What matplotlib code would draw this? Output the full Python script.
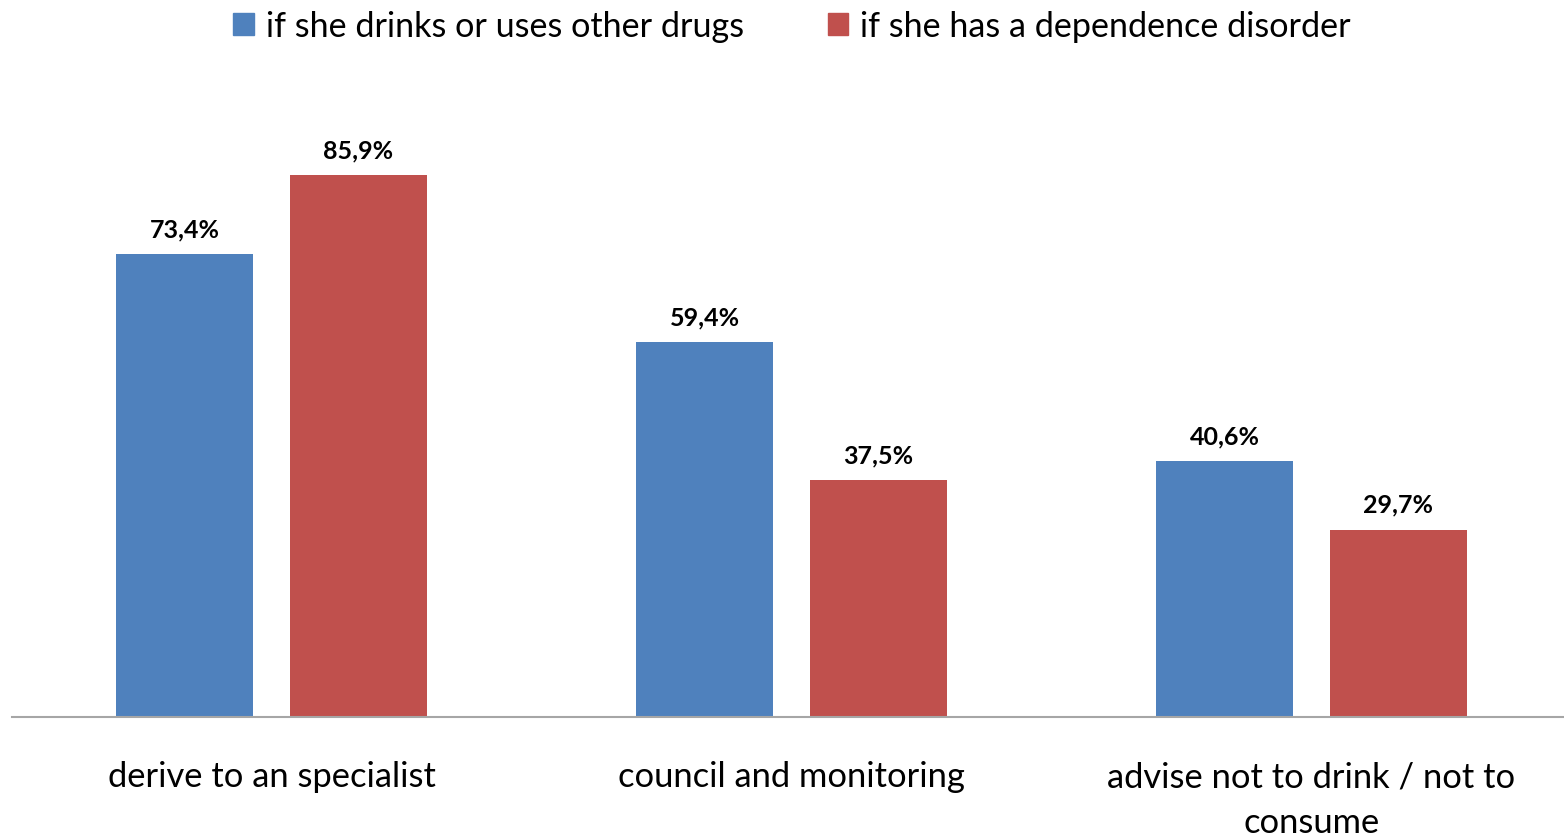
import matplotlib.pyplot as plt
from matplotlib.patches import Patch

plt.rcParams['font.family'] = ['Lato', 'DejaVu Sans']

categories = ['derive to an specialist', 'council and monitoring',
              'advise not to drink / not to\nconsume']
series_names = ['if she drinks or uses other drugs', 'if she has a dependence disorder']
drinks_vals = [73.4, 59.4, 40.6]
dependence_vals = [85.9, 37.5, 29.7]

blue = '#4F81BD'
red = '#C0504D'

fig = plt.figure(figsize=(15.64, 8.37), dpi=100)
ax = fig.add_axes([11.5 / 1564, 1 - 718 / 837, 1560 / 1564, (718 - 87) / 837])

x = list(range(len(categories)))
w = 0.2635
off = 0.1665
b1 = ax.bar([i - off for i in x], drinks_vals, w, color=blue)
b2 = ax.bar([i + off for i in x], dependence_vals, w, color=red)

for bars, vals in ((b1, drinks_vals), (b2, dependence_vals)):
    for rect, v in zip(bars, vals):
        ax.annotate(('%.1f%%' % v).replace('.', ','),
                    (rect.get_x() + rect.get_width() / 2, v),
                    xytext=(0, 10), textcoords='offset points',
                    ha='center', va='bottom', fontsize=18, fontweight='bold')

ax.set_xlim(-0.5, 2.5)
ax.set_ylim(0, 100)
ax.set_xticks(x)
ax.set_xticklabels(categories, fontsize=24.8, linespacing=1.55)
ax.tick_params(axis='x', length=0, pad=31)
ax.set_yticks([])
for s in ('top', 'right', 'left'):
    ax.spines[s].set_visible(False)
ax.spines['bottom'].set_color('#A6A6A6')
ax.spines['bottom'].set_linewidth(1.5)

handles = [Patch(color=blue), Patch(color=red)]
fig.legend(handles, series_names, loc='center', bbox_to_anchor=(792 / 1564, 1 - 27 / 837),
           ncol=2, frameon=False, fontsize=24.6, handlelength=0.6, handleheight=0.6,
           handletextpad=0.35, columnspacing=2.45)

fig.savefig('out.png', dpi=100)
